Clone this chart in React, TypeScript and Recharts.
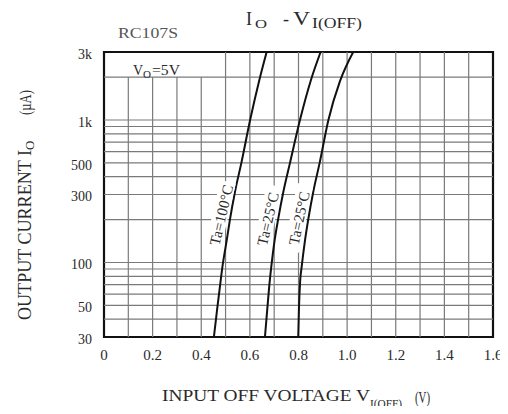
import React from "react";
import { LineChart, Line, XAxis, YAxis, ReferenceLine, ReferenceArea, ReferenceDot } from "recharts";

// output current levels (uA), shared by all three series
const currentLevels = [30, 48, 75, 93, 144, 200, 315, 500, 1000, 1880, 3000];
// input off voltage (V) at each level
const voltsTa100 = [0.452, 0.466, 0.48, 0.487, 0.505, 0.518, 0.539, 0.565, 0.601, 0.638, 0.669];
const voltsTa25 = [0.662, 0.672, 0.682, 0.688, 0.702, 0.716, 0.738, 0.765, 0.806, 0.85, 0.891];
const voltsTa25b = [0.799, 0.802, 0.807, 0.813, 0.827, 0.84, 0.861, 0.887, 0.923, 0.971, 1.025];

const xTicks = [0, 0.2, 0.4, 0.6, 0.8, 1.0, 1.2, 1.4, 1.6];
const yTicks = [30, 50, 100, 300, 500, 1000, 3000];
const xGrid = [0.1, 0.2, 0.3, 0.4, 0.5, 0.6, 0.7, 0.8, 0.9, 1.0, 1.1, 1.2, 1.3, 1.4, 1.5];
const yGrid = [40, 50, 60, 70, 80, 90, 100, 200, 300, 400, 500, 600, 700, 800, 900, 1000, 2000];

const curveLabels = [
  { text: "Ta=100°C", v: 0.483, i: 215, angle: -77 },
  { text: "Ta=25°C", v: 0.675, i: 202, angle: -77 },
  { text: "Ta=25°C", v: 0.803, i: 205, angle: -78 },
];

const toSeries = (volts: number[]) => volts.map((v, k) => ({ v, i: currentLevels[k] }));

const FONT = "'Liberation Serif', 'DejaVu Serif', serif";
const GRID = "#7a7a7a";
const INK = "#2a2a2a";

const fmtX = (v: number) => (v === 0 ? "0" : v.toFixed(1));
const fmtY = (v: number) => (v >= 1000 ? `${v / 1000}k` : `${v}`);

export default function App() {
  const series = [toSeries(voltsTa100), toSeries(voltsTa25), toSeries(voltsTa25b)];
  return (
    <div style={{ position: "relative", width: 508, height: 414, margin: -8, fontFamily: FONT }}>
      <LineChart width={508} height={414} margin={{ top: 52, right: 15, bottom: 47, left: 0 }}>
        <XAxis
          type="number"
          dataKey="v"
          domain={[0, 1.6]}
          ticks={xTicks}
          tickFormatter={fmtX}
          axisLine={false}
          tickLine={false}
          tickSize={0}
          tickMargin={12}
          height={30}
          allowDataOverflow
          tick={{ fill: INK, fontSize: 15, fontFamily: FONT }}
        />
        <YAxis
          type="number"
          scale="log"
          domain={[30, 3000]}
          ticks={yTicks}
          tickFormatter={fmtY}
          axisLine={false}
          tickLine={false}
          tickSize={0}
          tickMargin={12}
          width={104}
          allowDataOverflow
          tick={{ fill: INK, fontSize: 14, fontFamily: FONT, dy: 2 }}
        />
        {yGrid.map((y) => (
          <ReferenceLine key={`h${y}`} y={y} stroke={GRID} strokeWidth={1.2} />
        ))}
        {xGrid.map((x) => (
          <ReferenceLine
            key={`v${x}`}
            segment={[
              { x, y: 30 },
              { x, y: x < 0.45 ? 2000 : 3000 },
            ]}
            stroke={GRID}
            strokeWidth={1.2}
          />
        ))}
        {curveLabels.map((l, k) => (
          <ReferenceDot
            key={`lab${k}`}
            x={l.v}
            y={l.i}
            shape={(p: any) => (
              <g transform={`rotate(${l.angle} ${p.cx} ${p.cy})`}>
                <rect x={p.cx - 34} y={p.cy - 9} width={68} height={16} fill="#fff" />
                <text x={p.cx} y={p.cy + 5} textAnchor="middle" fontSize={15} fontFamily={FONT} fill={INK}>
                  {l.text}
                </text>
              </g>
            )}
          />
        ))}
        {series.map((d, k) => (
          <Line
            key={`s${k}`}
            data={d}
            dataKey="i"
            type="monotone"
            stroke="#111"
            strokeWidth={2}
            dot={false}
            isAnimationActive={false}
          />
        ))}
        <ReferenceArea x1={0} x2={1.6} y1={30} y2={3000} fill="none" stroke="#111" strokeWidth={2.2} />
      </LineChart>
      <svg
        width={508}
        height={414}
        style={{ position: "absolute", left: 0, top: 0, pointerEvents: "none" }}
        fontFamily={FONT}
        fill={INK}
      >
        {/* title */}
        <text x={246} y={25} fontSize={18}>I</text>
        <text x={255} y={28} fontSize={13} textLength={12} lengthAdjust="spacingAndGlyphs">O</text>
        <text x={283} y={25} fontSize={18}>-</text>
        <text x={293} y={25} fontSize={18} textLength={17} lengthAdjust="spacingAndGlyphs">V</text>
        <text x={312} y={28} fontSize={14} textLength={50} lengthAdjust="spacingAndGlyphs">I(OFF)</text>
        {/* part number */}
        <text x={118} y={38} fontSize={15} fill="#555" textLength={60} lengthAdjust="spacingAndGlyphs">RC107S</text>
        {/* condition */}
        <text x={133} y={75} fontSize={14}>V</text>
        <text x={143} y={78} fontSize={11}>O</text>
        <text x={152} y={75} fontSize={14} textLength={28} lengthAdjust="spacingAndGlyphs">=5V</text>
        {/* x axis title */}
        <text x={162} y={401} fontSize={17} textLength={208} lengthAdjust="spacingAndGlyphs">INPUT OFF VOLTAGE V</text>
        <text x={370} y={408} fontSize={13} textLength={32} lengthAdjust="spacingAndGlyphs">I(OFF)</text>
        <text x={415} y={403} fontSize={16} textLength={15} lengthAdjust="spacingAndGlyphs">(V)</text>
        {/* y axis title */}
        <g transform="rotate(-90 31 320)">
          <text x={31} y={320} fontSize={18} textLength={170} lengthAdjust="spacingAndGlyphs">OUTPUT CURRENT I</text>
        </g>
        <g transform="rotate(-90 34 150)">
          <text x={34} y={150} fontSize={13}>O</text>
        </g>
        <g transform="rotate(-90 31 115)">
          <text x={31} y={115} fontSize={16} textLength={25} lengthAdjust="spacingAndGlyphs">(µA)</text>
        </g>
      </svg>
    </div>
  );
}
